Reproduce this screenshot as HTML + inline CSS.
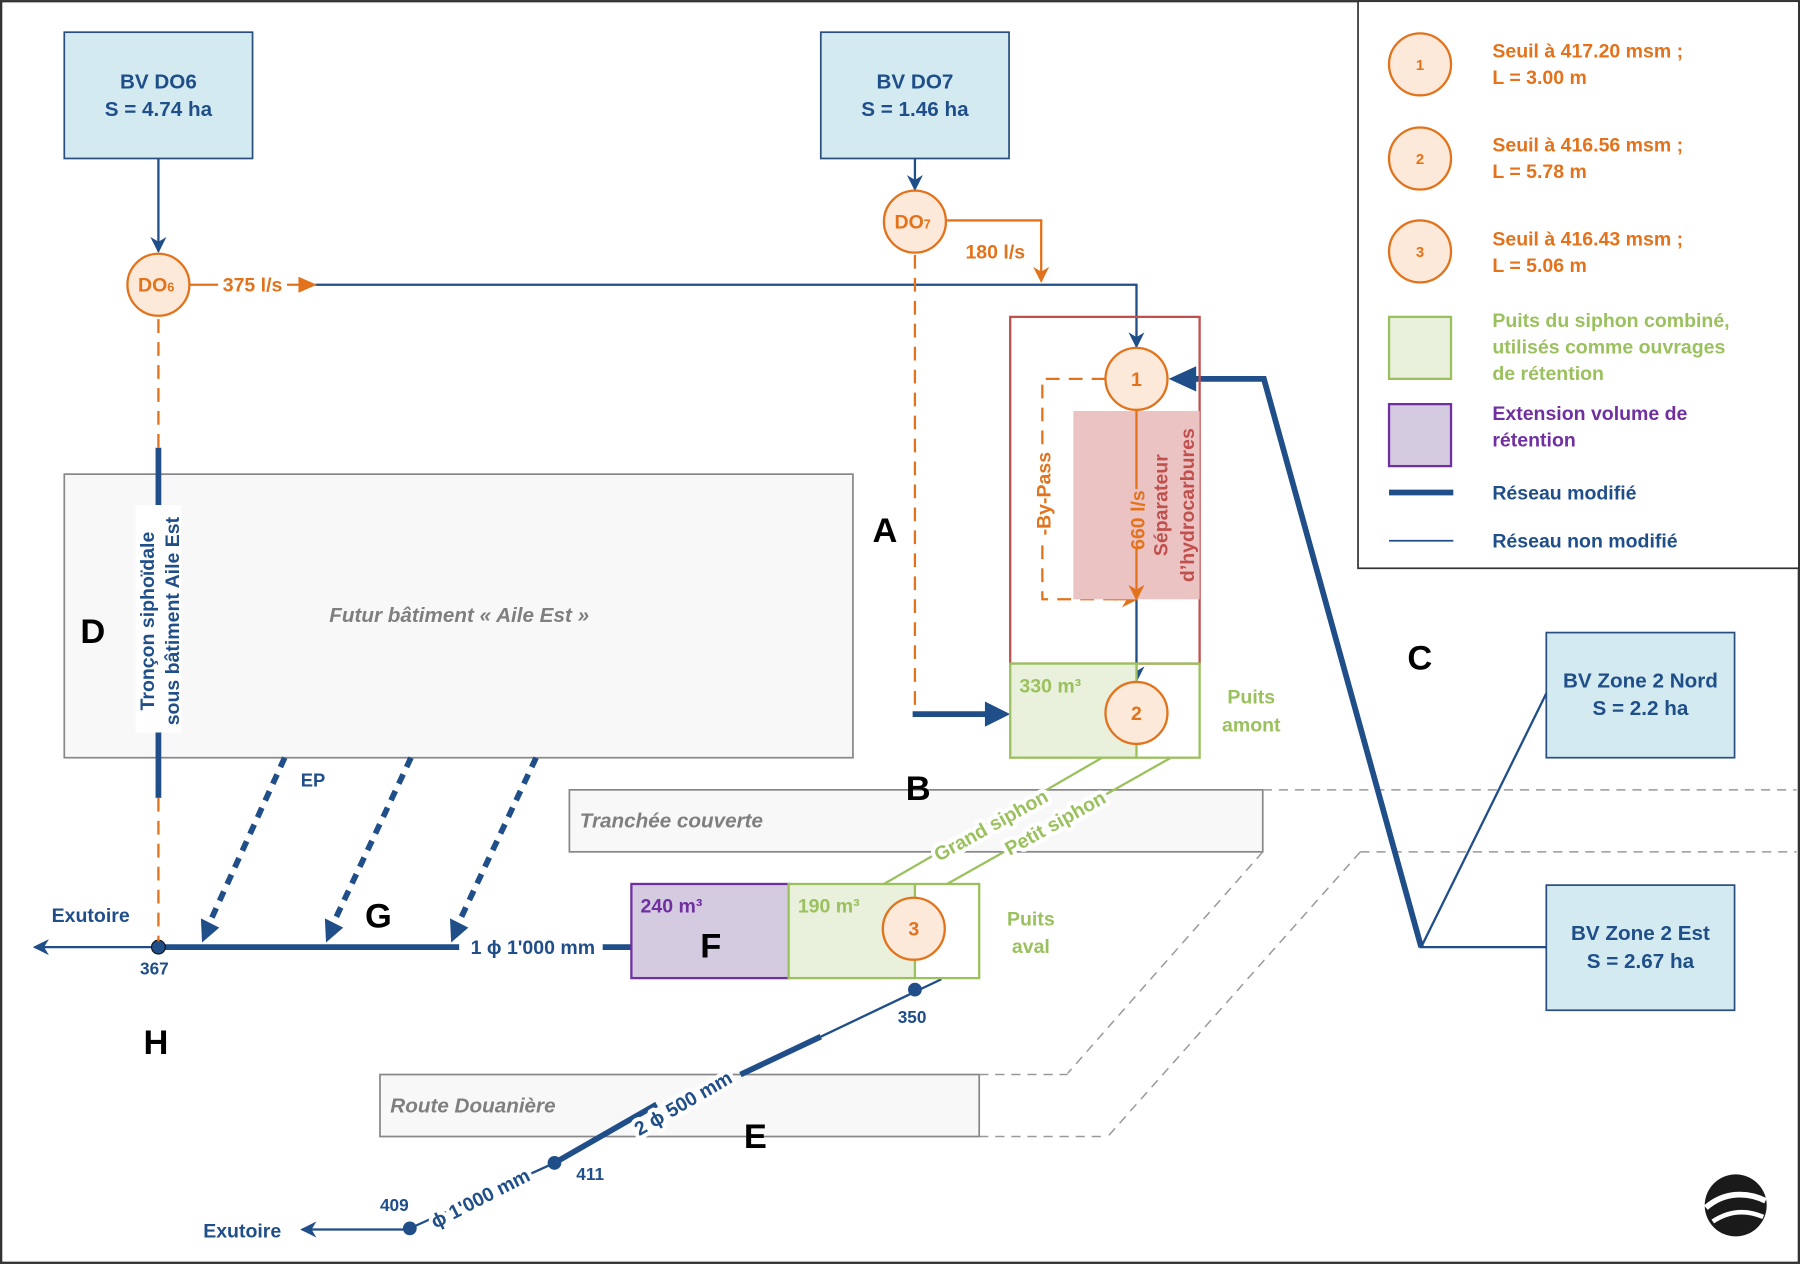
<!DOCTYPE html>
<html><head><meta charset="utf-8"><style>
html,body{margin:0;padding:0;background:#fff}
svg{display:block}
text{font-family:"Liberation Sans",sans-serif;font-weight:bold}
.halo{paint-order:stroke;stroke:#fff;stroke-width:7px;stroke-linejoin:round}
</style></head><body>
<svg width="1800" height="1264" viewBox="0 0 1568 1101" xmlns="http://www.w3.org/2000/svg">
<defs>
<marker id="ab" viewBox="0 0 10 10" refX="9" refY="5" markerWidth="7" markerHeight="7" orient="auto"><path d="M0,0L10,5L0,10L3,5z" fill="#1f4e89"/></marker>
<marker id="ao" viewBox="0 0 10 10" refX="9" refY="5" markerWidth="7" markerHeight="7" orient="auto"><path d="M0,0L10,5L0,10L3,5z" fill="#e2731c"/></marker>
</defs>
<rect x="1" y="1" width="1566" height="1099" fill="#fff" stroke="#333" stroke-width="2"/>
<rect x="1183" y="1" width="384" height="494" fill="#fff" stroke="#333" stroke-width="1.5"/>

<!-- buildings -->
<rect x="56" y="413" width="687" height="247" fill="#f8f8f8" stroke="#888" stroke-width="1.5"/>
<text x="400" y="542" font-size="18" font-style="italic" fill="#7f7f7f" text-anchor="middle">Futur bâtiment « Aile Est »</text>
<rect x="496" y="688" width="604" height="54" fill="#f8f8f8" stroke="#888" stroke-width="1.5"/>
<text x="505" y="721" font-size="18" font-style="italic" fill="#7f7f7f">Tranchée couverte</text>
<path d="M1100,688H1565M1100,742L930,935M1185,742H1565M1185,742L965,990" stroke="#999" stroke-width="1.3" stroke-dasharray="8,6" fill="none"/>
<rect x="331" y="936" width="522" height="54" fill="#f8f8f8" stroke="#888" stroke-width="1.5"/>
<text x="340" y="969" font-size="18" font-style="italic" fill="#7f7f7f">Route Douanière</text>
<path d="M853,936H930M853,990H965" stroke="#999" stroke-width="1.3" stroke-dasharray="8,6"/>

<!-- BV boxes -->
<g fill="#d2eaf0" stroke="#2a4f7f" stroke-width="1.5">
<rect x="56" y="28" width="164" height="110"/><rect x="715" y="28" width="164" height="110"/>
<rect x="1347" y="551" width="164" height="109"/><rect x="1347" y="771" width="164" height="109"/>
</g>
<g font-size="18" fill="#1f4e89" text-anchor="middle">
<text x="138" y="77">BV DO6</text><text x="138" y="101">S = 4.74 ha</text>
<text x="797" y="77">BV DO7</text><text x="797" y="101">S = 1.46 ha</text>
<text x="1429" y="599">BV Zone 2 Nord</text><text x="1429" y="623">S = 2.2 ha</text>
<text x="1429" y="819">BV Zone 2 Est</text><text x="1429" y="843">S = 2.67 ha</text>
</g>

<!-- blue thin lines -->
<g stroke="#1f4e89" stroke-width="2" fill="none">
<path d="M138,138V219" marker-end="url(#ab)"/>
<path d="M797,138V165" marker-end="url(#ab)"/>
<path d="M275,248H990V302" marker-end="url(#ab)"/>
<path d="M990,522V593" marker-end="url(#ab)"/>
<path d="M1347,604L1238,825H1347"/>
<path d="M138,825H30" marker-end="url(#ab)"/>
<path d="M820,853L715,903"/>
<path d="M357,1071H263" marker-end="url(#ab)"/>
<path d="M483,1013L357,1070"/>
</g>
<!-- thick blue -->
<g stroke="#1f4e89" stroke-width="5" fill="none">
<path d="M1238,825L1101,330H1030" />
<path d="M795,622H862"/>
<path d="M138,825H400M525,825H550"/>
<path d="M138,390V440M138,638V695"/>
<path d="M715,903L645,936M572,962L483,1013"/>
</g>
<path d="M1018,330L1042,319V341z" fill="#1f4e89"/>
<path d="M880,622L858,611V633z" fill="#1f4e89"/>
<!-- EP dashed -->
<g stroke="#1f4e89" stroke-width="5" stroke-dasharray="9,7" fill="none">
<path d="M248,660L182,805M358,660L290,805M467,660L399,805"/>
</g>
<g fill="#1f4e89">
<path d="M176,821L191,808L175,800z"/>
<path d="M284,821L299,808L283,800z"/>
<path d="M393,821L408,808L392,800z"/>
<circle cx="138" cy="825" r="6" stroke="#111" stroke-width="1"/>
<circle cx="797" cy="862" r="6"/><circle cx="483" cy="1013" r="6"/><circle cx="357" cy="1070" r="6"/>
</g>

<!-- orange dashed -->
<g stroke="#e2731c" stroke-width="2" stroke-dasharray="12,8" fill="none">
<path d="M138,278V390M138,695V820"/>
<path d="M797,222V622"/>
<path d="M963,330H908V522H975"/>
</g>
<path d="M970,522H990" stroke="#e2731c" stroke-width="2" marker-end="url(#ao)"/>
<path d="M825,192H907V245" stroke="#e2731c" stroke-width="2" fill="none" marker-end="url(#ao)"/>
<path d="M165,248H190M250,248H275" stroke="#e2731c" stroke-width="2" fill="none"/>
<path d="M276,248L260,241V255z" fill="#e2731c"/>

<!-- separator -->
<rect x="880" y="276" width="165" height="302" fill="none" stroke="#c0504d" stroke-width="2"/>
<rect x="935" y="358" width="110" height="164" fill="#ebc3c3"/>
<path d="M990,358V522" stroke="#e2731c" stroke-width="2" marker-end="url(#ao)"/>
<rect x="978" y="426" width="24" height="52" fill="#ebc3c3"/>
<text transform="translate(997,453) rotate(-90)" font-size="17" fill="#e2731c" text-anchor="middle">660 l/s</text>
<text transform="translate(1017,440) rotate(-90)" font-size="17" fill="#c0504d" text-anchor="middle" font-weight="normal">Séparateur</text>
<text transform="translate(1040,440) rotate(-90)" font-size="17" fill="#c0504d" text-anchor="middle" font-weight="normal">d’hydrocarbures</text>
<rect x="899" y="390" width="20" height="80" fill="#fff"/>
<text transform="translate(915,430) rotate(-90)" font-size="17" fill="#e2731c" text-anchor="middle">-By-Pass</text>

<!-- puits amont -->
<rect x="880" y="578" width="110" height="82" fill="#e9f0dc"/>
<rect x="880" y="578" width="165" height="82" fill="none" stroke="#9bc15e" stroke-width="2"/>
<path d="M990,578V660" stroke="#9bc15e" stroke-width="2"/>
<text x="888" y="603" font-size="17" fill="#9bc15e">330 m³</text>
<text x="1090" y="613" font-size="17" fill="#9bc15e" text-anchor="middle">Puits</text>
<text x="1090" y="637" font-size="17" fill="#9bc15e" text-anchor="middle">amont</text>
<!-- siphons -->
<path d="M960,660L770,770M1020,660L825,770" stroke="#9bc15e" stroke-width="2"/>
<text class="halo" transform="translate(866,724) rotate(-29)" font-size="17" fill="#9bc15e" font-weight="normal" text-anchor="middle">Grand siphon</text>
<text class="halo" transform="translate(922,722) rotate(-29)" font-size="17" fill="#9bc15e" font-weight="normal" text-anchor="middle">Petit siphon</text>

<!-- puits aval -->
<rect x="550" y="770" width="137" height="82" fill="#d5cbe1" stroke="#7030a0" stroke-width="2"/>
<rect x="687" y="770" width="110" height="82" fill="#e9f0dc"/>
<rect x="687" y="770" width="166" height="82" fill="none" stroke="#9bc15e" stroke-width="2"/>
<path d="M797,770V852" stroke="#9bc15e" stroke-width="2"/>
<text x="558" y="795" font-size="17" fill="#7030a0">240 m³</text>
<text x="695" y="795" font-size="17" fill="#9bc15e">190 m³</text>
<text x="898" y="806" font-size="17" fill="#9bc15e" text-anchor="middle">Puits</text>
<text x="898" y="830" font-size="17" fill="#9bc15e" text-anchor="middle">aval</text>

<!-- circles -->
<g fill="#fde9d9" stroke="#e2731c" stroke-width="2">
<circle cx="138" cy="248" r="27"/><circle cx="797" cy="193" r="27"/>
<circle cx="990" cy="330" r="27"/><circle cx="990" cy="621" r="27"/><circle cx="796" cy="809" r="27"/>
<circle cx="1237" cy="56" r="27"/><circle cx="1237" cy="138" r="27"/><circle cx="1237" cy="219" r="27"/>
</g>
<g font-size="17" fill="#e2731c" text-anchor="middle">
<text x="136" y="254">DO<tspan font-size="11">6</tspan></text>
<text x="795" y="199">DO<tspan font-size="11">7</tspan></text>
<text x="990" y="336">1</text><text x="990" y="627">2</text><text x="796" y="815">3</text>
<text x="1237" y="61" font-size="13">1</text><text x="1237" y="143" font-size="13">2</text><text x="1237" y="224" font-size="13">3</text>
<text x="220" y="254">375 l/s</text>
<text x="867" y="225">180 l/s</text>
</g>

<!-- vertical label D -->
<rect x="118" y="440" width="40" height="198" fill="#fff"/>
<text transform="translate(134,541) rotate(-90)" font-size="17" fill="#1f4e89" text-anchor="middle">Tronçon siphoïdale</text>
<text transform="translate(156,541) rotate(-90)" font-size="17" fill="#1f4e89" text-anchor="middle">sous bâtiment Aile Est</text>

<!-- blue labels -->
<g font-size="17" fill="#1f4e89">
<text x="45" y="803">Exutoire</text>
<text x="122" y="849" font-size="15">367</text>
<text x="262" y="685" font-size="16">EP</text>
<text x="410" y="831">1 ϕ 1'000 mm</text>
<text x="782" y="891" font-size="15">350</text>
<text x="502" y="1028" font-size="15">411</text>
<text x="331" y="1055" font-size="15">409</text>
<text x="177" y="1078">Exutoire</text>
</g>
<text class="halo" transform="translate(598,966) rotate(-30)" font-size="17" fill="#1f4e89" text-anchor="middle">2 ϕ 500 mm</text>
<text class="halo" transform="translate(421,1049) rotate(-27)" font-size="17" fill="#1f4e89" text-anchor="middle">ϕ 1'000 mm</text>

<!-- big letters -->
<g font-size="30" fill="#000">
<text x="760" y="472">A</text><text x="789" y="697">B</text><text x="1226" y="583">C</text>
<text x="70" y="560">D</text><text x="648" y="1000">E</text><text x="610" y="834">F</text>
<text x="318" y="808">G</text><text x="125" y="918">H</text>
</g>

<!-- legend -->
<g font-size="17">
<text x="1300" y="50" fill="#e2731c">Seuil à 417.20 msm ;</text><text x="1300" y="73" fill="#e2731c">L = 3.00 m</text>
<text x="1300" y="132" fill="#e2731c">Seuil à 416.56 msm ;</text><text x="1300" y="155" fill="#e2731c">L = 5.78 m</text>
<text x="1300" y="214" fill="#e2731c">Seuil à 416.43 msm ;</text><text x="1300" y="237" fill="#e2731c">L = 5.06 m</text>
<text x="1300" y="285" fill="#9bc15e">Puits du siphon combiné,</text><text x="1300" y="308" fill="#9bc15e">utilisés comme ouvrages</text><text x="1300" y="331" fill="#9bc15e">de rétention</text>
<text x="1300" y="366" fill="#7030a0">Extension volume de</text><text x="1300" y="389" fill="#7030a0">rétention</text>
<text x="1300" y="435" fill="#1f4e89">Réseau modifié</text>
<text x="1300" y="477" fill="#1f4e89">Réseau non modifié</text>
</g>
<rect x="1210" y="276" width="54" height="54" fill="#e9f0dc" stroke="#9bc15e" stroke-width="2"/>
<rect x="1210" y="352" width="54" height="54" fill="#d5cbe1" stroke="#7030a0" stroke-width="2"/>
<path d="M1210,429H1266" stroke="#1f4e89" stroke-width="5"/>
<path d="M1210,471H1266" stroke="#1f4e89" stroke-width="1.5"/>

<!-- logo -->
<g transform="translate(1512,1050)">
<circle r="27" fill="#1a1a1a"/>
<path d="M-26,2C-10,-12 10,-12 26,-4" stroke="#fff" stroke-width="5" fill="none"/>
<path d="M-20,14C-5,4 10,4 24,10" stroke="#fff" stroke-width="4" fill="none"/>
</g>
</svg>
</body></html>
